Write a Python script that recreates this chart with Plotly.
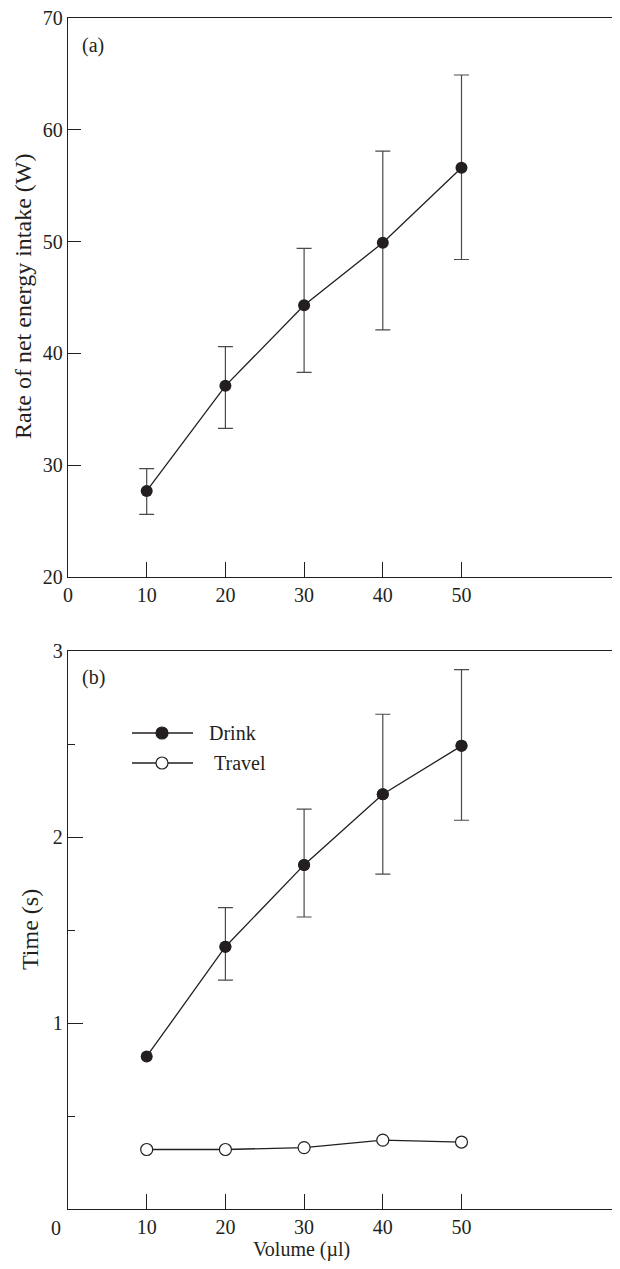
import plotly.graph_objects as go

# ---------------- data ----------------
volume = [10, 20, 30, 40, 50]

rate_mean = [27.7, 37.1, 44.3, 49.9, 56.6]
rate_upper = [29.7, 40.6, 49.4, 58.1, 64.9]
rate_lower = [25.6, 33.3, 38.3, 42.1, 48.4]

drink_mean = [0.82, 1.41, 1.85, 2.23, 2.49]
drink_upper = [None, 1.62, 2.15, 2.66, 2.90]   # no visible bar at 10 µl
drink_lower = [None, 1.23, 1.57, 1.80, 2.09]

travel_mean = [0.32, 0.32, 0.33, 0.37, 0.36]

x_ticks = [0, 10, 20, 30, 40, 50]
x_ticks_b = [10, 20, 30, 40, 50]
y_ticks_a = [20, 30, 40, 50, 60, 70]
y_ticks_b = [1, 2, 3]
y_minor_b = [0.5, 1.5, 2.5]

# ---------------- layout helpers ----------------
# The page body has an 8px margin, so the figure is sized to fit the window.
OFF = 8
W, H = 620 - OFF, 1269 - 2 * OFF
ML, MR, MT = 68 - OFF, 0, 18 - OFF
MB = H - (1209 - OFF)
PW, PH = W - ML - MR, H - MT - MB


def px(x):
    """page x pixel -> paper coordinate"""
    return (x - OFF - ML) / PW


def py(y):
    """page y pixel -> paper coordinate"""
    return (H - MB - (y - OFF)) / PH


FONT = "Liberation Serif, Times New Roman, serif"
INK = "#231f20"
ERR = "#4a4a4a"
MSIZE = 12

fig = go.Figure()

# ---- panel (a) ----
fig.add_trace(go.Scatter(
    x=volume, y=rate_mean, mode="lines+markers", xaxis="x", yaxis="y",
    line=dict(color=INK, width=1.3),
    marker=dict(size=MSIZE, color=INK),
    error_y=dict(type="data", symmetric=False,
                 array=[h - v for v, h in zip(rate_mean, rate_upper)],
                 arrayminus=[v - l for v, l in zip(rate_mean, rate_lower)],
                 color=ERR, thickness=1.2, width=7.5),
    showlegend=False, cliponaxis=False,
))

# ---- panel (b) ----
# error bars only where they exist
eb_idx = [i for i, h in enumerate(drink_upper) if h is not None]
fig.add_trace(go.Scatter(
    x=[volume[i] for i in eb_idx], y=[drink_mean[i] for i in eb_idx],
    mode="markers", xaxis="x2", yaxis="y2",
    marker=dict(size=MSIZE, color=INK),
    error_y=dict(type="data", symmetric=False,
                 array=[drink_upper[i] - drink_mean[i] for i in eb_idx],
                 arrayminus=[drink_mean[i] - drink_lower[i] for i in eb_idx],
                 color=ERR, thickness=1.2, width=7.5),
    showlegend=False, cliponaxis=False, hoverinfo="skip",
))
fig.add_trace(go.Scatter(
    x=volume, y=drink_mean, mode="lines+markers", xaxis="x2", yaxis="y2",
    name="Drink",
    line=dict(color=INK, width=1.3),
    marker=dict(size=MSIZE, color=INK),
    showlegend=False, cliponaxis=False,
))
fig.add_trace(go.Scatter(
    x=volume, y=travel_mean, mode="lines+markers", xaxis="x2", yaxis="y2",
    name="Travel",
    line=dict(color=INK, width=1.3),
    marker=dict(size=MSIZE, color="white", line=dict(color=INK, width=1.2)),
    showlegend=False, cliponaxis=False,
))

axis_common = dict(
    showgrid=False, zeroline=False, showline=True, linecolor=INK, linewidth=1.3,
    ticks="inside", tickcolor=INK, tickwidth=1.2,
    tickfont=dict(family=FONT, size=20, color=INK),
    ticklabeloverflow="allow",
)

top_dom = [py(577), 1.0]
bot_dom = [0.0, py(651)]
x_range = [0, PW / 7.87]

fig.update_layout(
    width=W, height=H,
    margin=dict(l=ML, r=MR, t=MT, b=MB, pad=0),
    paper_bgcolor="white", plot_bgcolor="white",
    showlegend=False,
    xaxis=dict(axis_common, domain=[0, 1], anchor="y", range=x_range,
               tickvals=x_ticks, ticklen=15, mirror=True),
    yaxis=dict(axis_common, domain=top_dom, anchor="x", range=[20, 70],
               tickvals=y_ticks_a, ticklen=13),
    xaxis2=dict(axis_common, domain=[0, 1], anchor="y2", range=x_range,
                tickvals=x_ticks_b, ticklen=15, mirror=True),
    yaxis2=dict(axis_common, domain=bot_dom, anchor="x2", range=[0, 3],
                tickvals=y_ticks_b, ticklen=15,
                minor=dict(tickvals=y_minor_b, ticks="inside", ticklen=7,
                           tickcolor=INK, tickwidth=1.2)),
)

ann_font = dict(family=FONT, size=20, color=INK)
annotations = [
    dict(text="(a)", x=px(80), y=py(45), xanchor="left", yanchor="middle"),
    dict(text="(b)", x=px(80), y=py(677), xanchor="left", yanchor="middle"),
    dict(text="0", x=px(56), y=py(1228), xanchor="center", yanchor="middle"),
    dict(text="Volume (\u00b5l)", x=px(301), y=py(1249), xanchor="center", yanchor="middle"),
    dict(text="Rate of net energy intake (W)", x=px(23), y=py(297), textangle=-90,
         xanchor="center", yanchor="middle", font=dict(family=FONT, size=24, color=INK)),
    dict(text="Time (s)", x=px(30), y=py(930), textangle=-90,
         xanchor="center", yanchor="middle", font=dict(family=FONT, size=24, color=INK)),
    dict(text="Drink", x=px(207), y=py(733), xanchor="left", yanchor="middle"),
    dict(text="Travel", x=px(212), y=py(763), xanchor="left", yanchor="middle"),
]
for a in annotations:
    a.setdefault("font", ann_font)
    a.update(xref="paper", yref="paper", showarrow=False)
fig.update_layout(annotations=annotations)

# manual legend glyphs
shapes = []
for ly, fill in [(733, INK), (763, "white")]:
    shapes.append(dict(type="line", xref="paper", yref="paper",
                       x0=px(132), x1=px(193), y0=py(ly), y1=py(ly),
                       line=dict(color=INK, width=1.3)))
    shapes.append(dict(type="circle", xref="paper", yref="paper",
                       xsizemode="pixel", ysizemode="pixel",
                       xanchor=px(162), yanchor=py(ly),
                       x0=-6, x1=6, y0=-6, y1=6,
                       fillcolor=fill, line=dict(color=INK, width=1.2)))
fig.update_layout(shapes=shapes)

fig.write_html("out.html")
